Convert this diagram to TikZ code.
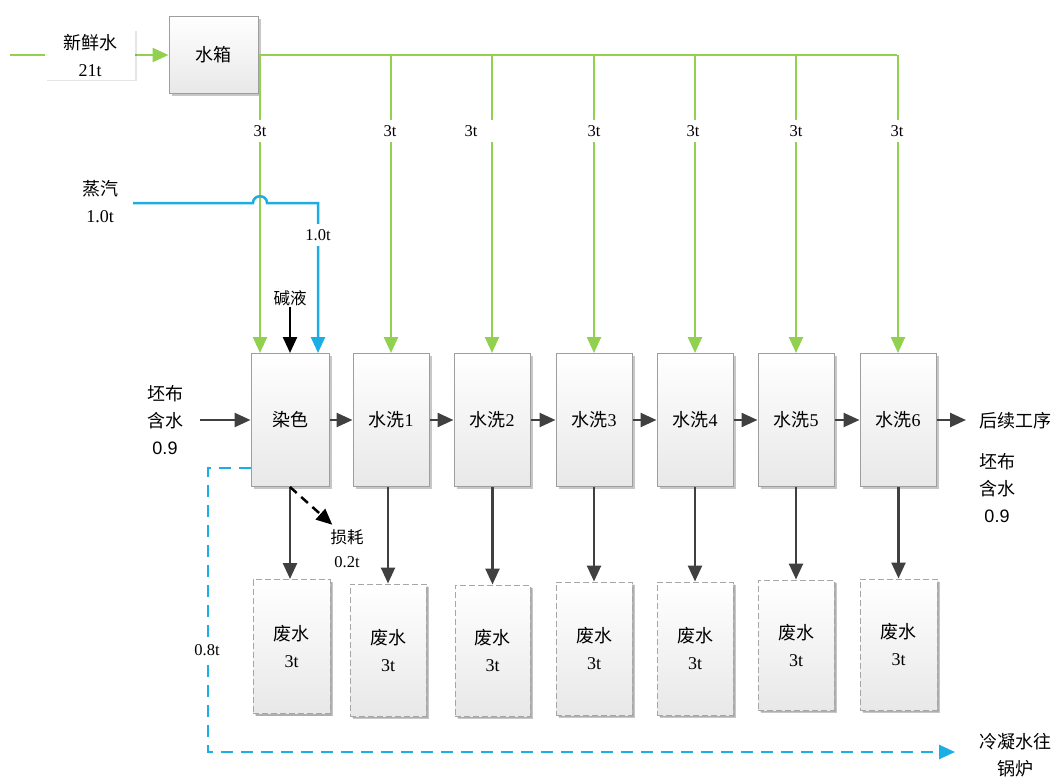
\documentclass[tikz,border=0pt]{standalone}
\usepackage{fontspec}
\setmainfont{Liberation Serif}
\newfontfamily\cjk{Noto Sans CJK SC}
\newfontfamily\lsans{Liberation Sans}
\usetikzlibrary{arrows.meta,shadows}
\newcommand\zh[1]{{\cjk #1}}
\definecolor{lgreen}{HTML}{92D050}
\definecolor{lblue}{HTML}{1CADE4}
\definecolor{agray}{HTML}{404040}
\begin{document}
\begin{tikzpicture}[x=1pt,y=-1pt,
  big/.style={font=\fontsize{18}{27}\selectfont},
  small/.style={font=\fontsize{16.5}{24}\selectfont},
  box/.style={big, draw=black!38, line width=1pt, top color=white, bottom color=black!9,
    minimum width=77pt, minimum height=133pt, inner sep=0pt, align=center,
    drop shadow={shadow xshift=2.5pt, shadow yshift=-2.5pt, fill=black, opacity=0.22}},
  waste/.style={box, dashed, draw=black!35, dash pattern=on 6pt off 3pt,
    drop shadow={shadow xshift=2pt, shadow yshift=-2pt, fill=black, opacity=0.12}},
  lbl/.style={small, fill=white, minimum width=52pt, minimum height=22pt, inner sep=1pt},
  txt/.style={align=center, inner sep=1pt},
  tip/.style={-{Triangle[length=16pt,width=14pt]}},
  gline/.style={draw=lgreen, line width=2.5pt},
  garr/.style={gline, tip},
  bline/.style={draw=lblue, line width=2.5pt, tip},
  arr/.style={draw=agray, line width=2.5pt, tip},
  karr/.style={draw=black, line width=2.5pt, tip}
]
\useasboundingbox (0,0) rectangle (1063,781);

% main boxes
\node[box, minimum width=89pt, minimum height=77pt] (tank) at (213.5,55) {\zh{水箱}};
\node[box, minimum width=78pt] (dye) at (290,420) {\zh{染色}};
\node[box, minimum width=76pt] (w1) at (391,420) {\zh{水洗}1};
\node[box, minimum width=76pt] (w2) at (492,420) {\zh{水洗}2};
\node[box, minimum width=76pt] (w3) at (594,420) {\zh{水洗}3};
\node[box, minimum width=76pt] (w4) at (695,420) {\zh{水洗}4};
\node[box, minimum width=76pt] (w5) at (796,420) {\zh{水洗}5};
\node[box, minimum width=76pt] (w6) at (898,420) {\zh{水洗}6};

% waste boxes
\node[waste, minimum width=77pt, minimum height=134pt] (d0) at (291.5,646.5) {\zh{废水}\\3t};
\node[waste, minimum width=76pt, minimum height=132pt] (d1) at (388,650) {\zh{废水}\\3t};
\node[waste, minimum width=75pt, minimum height=131pt] (d2) at (492.5,650.5) {\zh{废水}\\3t};
\node[waste, minimum width=76pt, minimum height=133pt] (d3) at (594,648.5) {\zh{废水}\\3t};
\node[waste, minimum width=76pt, minimum height=133pt] (d4) at (695,648.5) {\zh{废水}\\3t};
\node[waste, minimum width=76pt, minimum height=130pt] (d5) at (796,645) {\zh{废水}\\3t};
\node[waste, minimum width=77pt, minimum height=131pt] (d6) at (898.5,644.5) {\zh{废水}\\3t};

% text labels
\node[big, txt] (inl) at (165,420.5) {\zh{坯布}\\\zh{含水}\\{\lsans 0.9}};
\node[big, txt] (out) at (1015,421) {\zh{后续工序}};
\node[big, txt] (outl) at (997,488.5) {\zh{坯布}\\\zh{含水}\\{\lsans 0.9}};
\node[big, txt] (steam) at (100,201.5) {\zh{蒸汽}\\1.0t};
\node[small, txt] (jy) at (290,298) {\zh{碱液}};
\node[small, txt] (loss) at (347,549) {\zh{损耗}\\0.2t};
\node[big, txt] (cond) at (1015,755) {\zh{冷凝水往}\\\zh{锅炉}};

% fresh water
\coordinate (fw) at (10,55);
\draw[garr] (fw) -- (tank.west);
\node[big, txt, fill=white, minimum width=90pt, minimum height=50pt,
  drop shadow={shadow xshift=1.5pt, shadow yshift=-1.5pt, fill=black, opacity=0.1}] (fwl) at (90,55) {\zh{新鲜水}\\21t};

% green distribution
\coordinate (gtop) at (897,55);
\coordinate (g0) at (260,55);
\draw[gline] (tank.east |- g0) -- (gtop);
\draw[garr] (g0) -- (g0 |- dye.north);
\foreach \i in {1,...,6}{
  \draw[garr] (w\i.north |- g0) -- (w\i.north);
}
\foreach \x in {260,390,471,594,693,796,897}{
  \node[lbl] (t\x) at (\x,131) {3t};
}

% steam
\coordinate (s1) at (133,203);
\coordinate (s2) at (318,203);
\draw[bline] (s1) -- (253,203) .. controls (253,194) and (267,194) .. (267,203) -- (s2) -- (s2 |- dye.north);
\node[lbl] (st) at (318,235) {1.0t};

% alkali
\draw[karr] (jy.south) -- (jy.south |- dye.north);

% process flow
\coordinate (ain) at (200,420);
\coordinate (aout) at (966,420);
\draw[arr] (ain) -- (dye.west);
\draw[arr] (dye.east) -- (w1.west);
\draw[arr] (w1.east) -- (w2.west);
\draw[arr] (w2.east) -- (w3.west);
\draw[arr] (w3.east) -- (w4.west);
\draw[arr] (w4.east) -- (w5.west);
\draw[arr] (w5.east) -- (w6.west);
\draw[arr] (w6.east) -- (aout);

% waste arrows
\draw[arr] (dye.south) -- (dye.south |- d0.north);
\foreach \i in {1,...,6}{
  \draw[arr] (d\i.north |- w\i.south) -- (d\i.north);
}

% loss
\draw[draw=black, line width=2.5pt, dash pattern=on 9pt off 6pt, tip]
  (dye.south) -- ([xshift=3pt,yshift=4pt]loss.north west);

% condensate
\coordinate (b1) at (251,468);
\coordinate (b2) at (208,468);
\coordinate (b3) at (208,752);
\coordinate (b4) at (955,752);
\draw[bline, dash pattern=on 12pt off 8pt] (b1) -- (b2) -- (b3) -- (b4);
\node[lbl] (c08) at (207,650) {0.8t};
\end{tikzpicture}
\end{document}
